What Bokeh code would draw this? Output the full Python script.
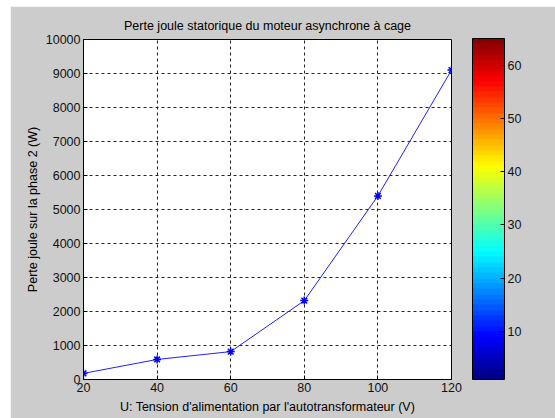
from bokeh.plotting import figure
from bokeh.models import ColorBar, LinearColorMapper, FixedTicker, Range1d
from bokeh.embed import file_html
from bokeh.resources import INLINE
import numpy as np

# Data
tension = [20, 40, 60, 80, 100, 120]
perte = [180, 590, 820, 2320, 5400, 9100]
x_ticks = [20, 40, 60, 80, 100, 120]
y_ticks = [0, 1000, 2000, 3000, 4000, 5000, 6000, 7000, 8000, 9000, 10000]
cbar_ticks = [10, 20, 30, 40, 50, 60]

title_txt = "Perte joule statorique du moteur asynchrone à cage"
xlabel = "U: Tension d'alimentation par l'autotransformateur (V)"
ylabel = "Perte joule sur la phase 2 (W)"


def jet(n):
    cols = []
    for i in range(n):
        v = (i + 0.5) / n
        r = np.clip(min(4 * v - 1.5, -4 * v + 4.5), 0, 1)
        g = np.clip(min(4 * v - 0.5, -4 * v + 3.5), 0, 1)
        b = np.clip(min(4 * v + 0.5, -4 * v + 2.5), 0, 1)
        cols.append("#%02x%02x%02x" % (int(r * 255), int(g * 255), int(b * 255)))
    return cols

FONT = "Liberation Sans"
BG = "#cccccc"

p = figure(frame_width=368, frame_height=340, output_backend="svg", toolbar_location=None,
           x_range=Range1d(20, 120), y_range=Range1d(0, 10000),
           min_border_left=73, min_border_bottom=39, min_border_top=33,
           min_border_right=104, margin=(6, 0, 0, 10))
p.border_fill_color = BG
p.background_fill_color = "white"
p.outline_line_color = "black"
p.outline_line_width = 1

p.title.text = title_txt
p.title.align = "center"
p.title.text_font = FONT
p.title.text_font_size = "12.5px"
p.title.text_font_style = "normal"
p.title.text_color = "black"
p.title.offset = 0
p.title.standoff = 14

p.line(tension, perte, line_color="#2020ff", line_width=1)
p.scatter(tension, perte, marker="asterisk", size=8, line_color="#0000ff", line_width=1.5)

for ax in (p.xaxis[0], p.yaxis[0]):
    ax.axis_line_color = "black"
    ax.major_tick_in = 4
    ax.major_tick_out = 0
    ax.major_tick_line_color = "black"
    ax.minor_tick_line_color = None
    ax.major_label_text_font = FONT
    ax.major_label_text_font_size = "12.5px"
    ax.major_label_text_color = "#111111"
    ax.axis_label_text_font = FONT
    ax.axis_label_text_font_size = "12.5px"
    ax.axis_label_text_font_style = "normal"
    ax.axis_label_text_color = "black"
    ax.major_label_standoff = 3

p.xaxis[0].axis_label_standoff = 5
p.yaxis[0].axis_label_standoff = 3
p.xaxis[0].ticker = FixedTicker(ticks=x_ticks)
p.yaxis[0].ticker = FixedTicker(ticks=y_ticks)
p.xaxis[0].axis_label = xlabel
p.yaxis[0].axis_label = ylabel

for g in (p.xgrid[0], p.ygrid[0]):
    g.grid_line_color = "#222222"
    g.grid_line_dash = "3 3"
    g.grid_line_width = 1

mapper = LinearColorMapper(palette=jet(64), low=1, high=65)
cb = ColorBar(color_mapper=mapper, width=32, height=341, location=(21, 0),
              padding=0, margin=0,
              ticker=FixedTicker(ticks=cbar_ticks),
              major_tick_in=4, major_tick_out=0, major_tick_line_color="black",
              minor_tick_line_color=None,
              bar_line_color="black",
              major_label_text_font=FONT, major_label_text_font_size="12.5px",
              major_label_text_color="#111111",
              label_standoff=3,
              background_fill_color=BG, background_fill_alpha=0)
p.add_layout(cb, "right")

open("out.html", "w").write(file_html(p, INLINE))
